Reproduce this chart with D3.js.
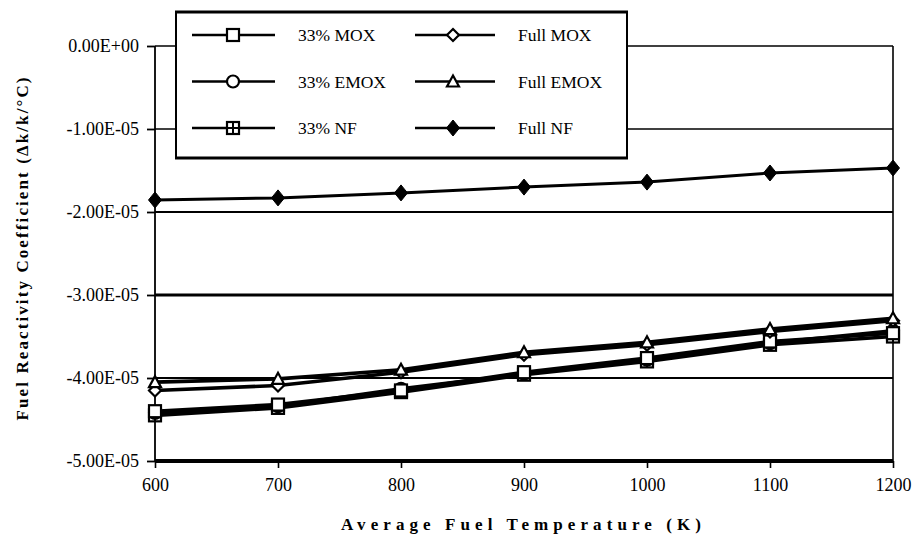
<!DOCTYPE html>
<html lang="en">
<head>
    <meta charset="UTF-8">
    <title>Fuel Reactivity Coefficient</title>
    <style>
        body { margin: 0; background: #ffffff; }
        svg { display: block; background: #ffffff; }
        text { font-family: "Liberation Serif", "DejaVu Serif", serif; fill: #000; }
    </style>
    <script src="https://d3js.org/d3.v7.min.js"></script>
</head>
<body>
    <svg width="914" height="537"></svg>
    <script>
        // data (coefficients in dk/k/C)
        const temps = [600, 700, 800, 900, 1000, 1100, 1200];
        const mox33  = [-4.40e-5, -4.32e-5, -4.15e-5, -3.93e-5, -3.76e-5, -3.56e-5, -3.46e-5];
        const emox33 = [-4.42e-5, -4.34e-5, -4.13e-5, -3.95e-5, -3.78e-5, -3.58e-5, -3.43e-5];
        const nf33   = [-4.45e-5, -4.36e-5, -4.17e-5, -3.96e-5, -3.80e-5, -3.60e-5, -3.50e-5];
        const moxFull  = [-4.15e-5, -4.09e-5, -3.93e-5, -3.72e-5, -3.60e-5, -3.44e-5, -3.31e-5];
        const emoxFull = [-4.05e-5, -4.01e-5, -3.90e-5, -3.69e-5, -3.57e-5, -3.41e-5, -3.28e-5];
        const nfFull   = [-1.855e-5, -1.83e-5, -1.77e-5, -1.70e-5, -1.64e-5, -1.53e-5, -1.47e-5];
        const yTicks = [0, -1e-5, -2e-5, -3e-5, -4e-5, -5e-5];
        const yTickLabels = ["0.00E+00", "-1.00E-05", "-2.00E-05", "-3.00E-05", "-4.00E-05", "-5.00E-05"];
        const xTicks = [600, 700, 800, 900, 1000, 1100, 1200];

        const series = [
            { name: "33% NF", values: nf33, marker: "boxplus" },
            { name: "33% EMOX", values: emox33, marker: "circle" },
            { name: "33% MOX", values: mox33, marker: "square" },
            { name: "Full MOX", values: moxFull, marker: "diamond" },
            { name: "Full EMOX", values: emoxFull, marker: "triangle" },
            { name: "Full NF", values: nfFull, marker: "fdiamond" }
        ];

        const svg = d3.select("svg");
        const x = d3.scaleLinear().domain([600, 1200]).range([155, 893]);
        const y = d3.scaleLinear().domain([-5e-5, 0]).range([461, 46]);

        // grid lines, the -3 and -5 ones are heavier in the original
        const gridW = v => (v === -3e-5 ? 3 : v === -5e-5 ? 4 : v === 0 || v === -1e-5 ? 1.6 : 2);
        svg.append("g").selectAll("line").data(yTicks).join("line")
            .attr("x1", x(600)).attr("x2", x(1200))
            .attr("y1", d => y(d)).attr("y2", d => y(d))
            .attr("stroke", "#000").attr("stroke-width", gridW);

        // frame sides
        svg.append("line").attr("x1", x(600)).attr("x2", x(600))
            .attr("y1", y(0)).attr("y2", y(-5e-5)).attr("stroke", "#000").attr("stroke-width", 1.8);
        svg.append("line").attr("x1", x(1200)).attr("x2", x(1200))
            .attr("y1", y(0)).attr("y2", y(-5e-5)).attr("stroke", "#000").attr("stroke-width", 1.6);

        // y axis
        const yAxis = d3.axisLeft(y).tickValues(yTicks)
            .tickFormat((d, i) => yTickLabels[i]).tickSize(8).tickPadding(8);
        const gy = svg.append("g").attr("transform", `translate(${x(600)},0)`).call(yAxis);
        gy.select(".domain").remove();
        gy.selectAll(".tick line").attr("stroke", "#000").attr("stroke-width", 1.8);
        gy.selectAll(".tick text").style("font-size", "18px").style("font-family", "Liberation Serif");

        // x axis
        const xAxis = d3.axisBottom(x).tickValues(xTicks).tickFormat(d3.format("d")).tickSize(7).tickPadding(10);
        const gx = svg.append("g").attr("transform", `translate(0,${y(-5e-5)})`).call(xAxis);
        gx.select(".domain").remove();
        gx.selectAll(".tick line").attr("stroke", "#000").attr("stroke-width", 1.6);
        gx.selectAll(".tick text").style("font-size", "18px").style("font-family", "Liberation Serif");

        // markers
        function drawMarker(g, type, cx, cy) {
            if (type === "square") {
                g.append("rect").attr("x", cx - 6).attr("y", cy - 6).attr("width", 12).attr("height", 12)
                    .attr("fill", "#fff").attr("stroke", "#000").attr("stroke-width", 2.2);
            } else if (type === "boxplus") {
                g.append("rect").attr("x", cx - 6).attr("y", cy - 6).attr("width", 12).attr("height", 12)
                    .attr("fill", "#fff").attr("stroke", "#000").attr("stroke-width", 2.2);
                g.append("path").attr("d", `M${cx - 6},${cy}H${cx + 6}M${cx},${cy - 6}V${cy + 6}`)
                    .attr("stroke", "#000").attr("stroke-width", 2);
            } else if (type === "circle") {
                g.append("circle").attr("cx", cx).attr("cy", cy).attr("r", 6)
                    .attr("fill", "#fff").attr("stroke", "#000").attr("stroke-width", 2.2);
            } else if (type === "triangle") {
                g.append("path").attr("d", `M${cx},${cy - 6}L${cx + 6},${cy + 5}L${cx - 6},${cy + 5}Z`)
                    .attr("fill", "#fff").attr("stroke", "#000").attr("stroke-width", 2.2);
            } else if (type === "diamond") {
                g.append("path").attr("d", `M${cx},${cy - 6}L${cx + 6},${cy}L${cx},${cy + 6}L${cx - 6},${cy}Z`)
                    .attr("fill", "#fff").attr("stroke", "#000").attr("stroke-width", 2.2);
            } else if (type === "fdiamond") {
                g.append("path").attr("d", `M${cx},${cy - 8}L${cx + 6.5},${cy}L${cx},${cy + 8}L${cx - 6.5},${cy}Z`)
                    .attr("fill", "#000").attr("stroke", "#000").attr("stroke-width", 1);
            }
        }

        const line = d3.line().x((d, i) => x(temps[i])).y(d => y(d));
        series.forEach(s => {
            const g = svg.append("g");
            g.append("path").datum(s.values).attr("d", line)
                .attr("fill", "none").attr("stroke", "#000")
                .attr("stroke-width", s.name === "Full NF" ? 3 : 3.6);
            s.values.forEach((v, i) => drawMarker(g, s.marker, x(temps[i]), y(v)));
        });

        // legend
        const lg = svg.append("g");
        lg.append("rect").attr("x", 176).attr("y", 12).attr("width", 451).attr("height", 146)
            .attr("fill", "#fff").attr("stroke", "#000").attr("stroke-width", 2);
        lg.append("line").attr("x1", 175).attr("x2", 628).attr("y1", 12).attr("y2", 12)
            .attr("stroke", "#000").attr("stroke-width", 3);
        lg.append("line").attr("x1", 175).attr("x2", 628).attr("y1", 158).attr("y2", 158)
            .attr("stroke", "#000").attr("stroke-width", 3);
        const legendOrder = ["33% MOX", "Full MOX", "33% EMOX", "Full EMOX", "33% NF", "Full NF"];
        legendOrder.forEach((name, k) => {
            const s = series.find(d => d.name === name);
            const col = k % 2, row = Math.floor(k / 2);
            const ly = 35 + row * 46.5;
            const x0 = col === 0 ? 192 : 415, x1 = col === 0 ? 275 : 495;
            const mx = col === 0 ? 233 : 453, tx = col === 0 ? 298 : 518;
            lg.append("line").attr("x1", x0).attr("x2", x1).attr("y1", ly).attr("y2", ly)
                .attr("stroke", "#000").attr("stroke-width", 2.4);
            drawMarker(lg, s.marker, mx, ly);
            lg.append("text").attr("x", tx).attr("y", ly + 6).style("font-size", "17.5px").text(name);
        });

        // axis titles
        svg.append("text").attr("x", 521).attr("y", 530).attr("text-anchor", "middle")
            .attr("textLength", 360).attr("lengthAdjust", "spacing")
            .style("font-size", "17px").style("font-weight", "bold")
            .text("Average Fuel Temperature (K)");
        svg.append("text").attr("transform", "translate(28,249) rotate(-90)").attr("text-anchor", "middle")
            .attr("textLength", 343).attr("lengthAdjust", "spacing")
            .style("font-size", "17px").style("font-weight", "bold")
            .text("Fuel Reactivity Coefficient (\u0394k/k/\u00B0C)");
    </script>
</body>
</html>
